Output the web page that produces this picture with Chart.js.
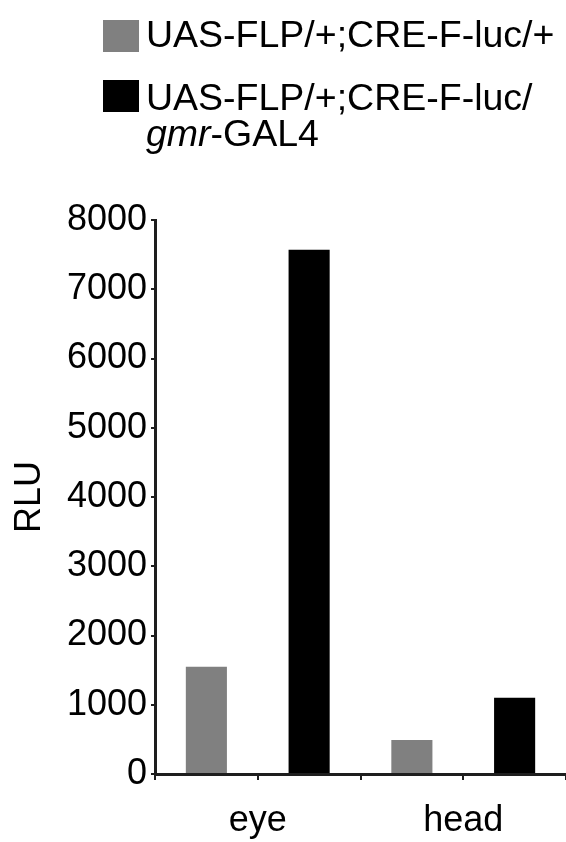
<!DOCTYPE html>
<html>
<head>
<meta charset="utf-8">
<script src="https://cdn.jsdelivr.net/npm/chart.js@4"></script>
<style>
    html, body { margin: 0; padding: 0; background: #fff; }
    #wrap { position: relative; width: 566px; height: 842px; overflow: hidden; }
    #chart { position: absolute; left: 0; top: 0; }
    .legend-item { position: absolute; left: 103px; font: 37.5px "Liberation Sans", Arial, sans-serif; line-height: 36px; color: #000; }
    .legend-box { position: absolute; left: 0; width: 36px; height: 32px; }
    .legend-text { position: absolute; left: 43px; top: 0; white-space: nowrap; }
</style>
</head>
<body>
<div id="wrap">
    <canvas id="chart" width="566" height="842"></canvas>
    <div id="legend"></div>
</div>
<script>
// ── Dades ────────────────────────────────────────────────────
const categories   = ['eye', 'head'];
const seriesNames  = ['UAS-FLP/+;CRE-F-luc/+', 'UAS-FLP/+;CRE-F-luc/gmr-GAL4'];
const legendHtml   = ['UAS-FLP/+;CRE-F-luc/+', 'UAS-FLP/+;CRE-F-luc/<br><i>gmr</i>-GAL4'];
const controlVals  = [1550, 490];
const gmrVals      = [7570, 1100];
const yTicks       = [0, 1000, 2000, 3000, 4000, 5000, 6000, 7000, 8000];
const halfSlots    = ['', '', '', ''];

const FONT = '"Liberation Sans", Arial, sans-serif';
const AXIS = '#1e1e1e';

const chart = new Chart(document.getElementById('chart'), {
    type: 'bar',
    data: {
        labels: categories,
        datasets: [
            { label: seriesNames[0], data: controlVals, backgroundColor: '#808080' },
            { label: seriesNames[1], data: gmrVals,     backgroundColor: '#000000' },
        ],
    },
    options: {
        responsive: false,
        animation: false,
        devicePixelRatio: 1,
        datasets: { bar: { categoryPercentage: 1.0, barPercentage: 0.4 } },
        layout: { padding: { top: 220, left: 0, right: 0, bottom: 0 } },
        plugins: { legend: { display: false }, tooltip: { enabled: false } },
        scales: {
            x: {
                weight: 1,
                grid: { display: false },
                border: { display: false },
                ticks: {
                    font: { family: FONT, size: 36 },
                    color: '#000',
                    padding: 11,
                    maxRotation: 0,
                    autoSkip: false,
                },
                afterFit: s => { s.height = 62; },
            },
            x2: {
                type: 'category',
                labels: halfSlots,
                position: 'bottom',
                weight: 0,
                grid: { offset: true, drawOnChartArea: false, tickLength: 6, color: AXIS, lineWidth: 2 },
                border: { display: true, color: AXIS, width: 3 },
                ticks: { display: false },
            },
            y: {
                min: 0,
                max: 8000,
                afterBuildTicks: s => { s.ticks = yTicks.map(v => ({ value: v })); },
                grid: { drawOnChartArea: false, tickLength: 4, color: AXIS, lineWidth: 2 },
                border: { color: AXIS, width: 3 },
                ticks: {
                    font: { family: FONT, size: 36 },
                    color: '#000',
                    padding: 4,
                    callback: v => String(v),
                },
                title: {
                    display: true,
                    text: 'RLU',
                    font: { family: FONT, size: 36 },
                    color: '#000',
                    padding: { top: 8, bottom: 0 },
                },
                afterFit: s => { s.width = 155; },
            },
        },
    },
});

// ── Llegenda HTML ────────────────────────────────────────────
const legendTops = [16, 79];
const legend = document.getElementById('legend');
chart.data.datasets.forEach((ds, i) => {
    const item = document.createElement('div');
    item.className = 'legend-item';
    item.style.top = legendTops[i] + 'px';
    item.innerHTML = `
        <span class="legend-box" style="background:${ds.backgroundColor}; top:${i === 0 ? 4 : 1}px"></span>
        <span class="legend-text">${legendHtml[i]}</span>
    `;
    legend.appendChild(item);
});
</script>
</body>
</html>
